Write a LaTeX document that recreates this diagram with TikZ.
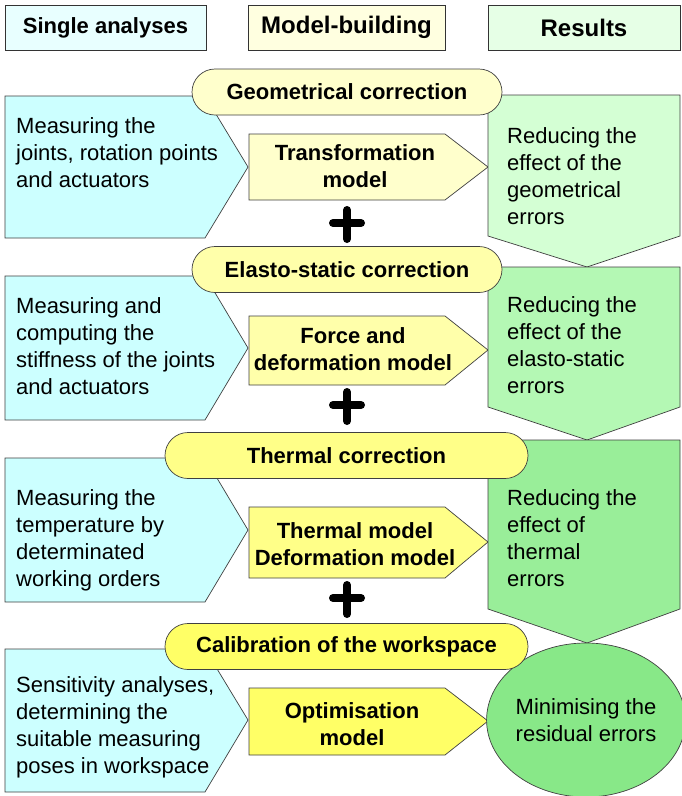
\documentclass[tikz,border=0pt]{standalone}
\usepackage{fontspec}
\setmainfont{Liberation Sans}
\usetikzlibrary{shapes.geometric}
\definecolor{bluefill}{HTML}{CCFFFF}
\definecolor{hdrblue}{HTML}{E8FFFF}
\definecolor{hdryellow}{HTML}{FFFFE0}
\definecolor{hdrgreen}{HTML}{E6FFE6}
\definecolor{yA}{HTML}{FFFFCC}
\definecolor{yB}{HTML}{FFFFAA}
\definecolor{yC}{HTML}{FFFF88}
\definecolor{yD}{HTML}{FFFF66}
\definecolor{gA}{HTML}{D4FFD4}
\definecolor{gB}{HTML}{B4F8B4}
\definecolor{gC}{HTML}{99EE99}
\definecolor{gD}{HTML}{88E888}
\definecolor{edge}{HTML}{404040}
\begin{document}
\begin{tikzpicture}[x=1pt,y=-1pt,
  txt/.style={font=\fontsize{22}{27}\selectfont, inner sep=0pt, align=left, anchor=west},
  btxt/.style={font=\fontsize{22}{27}\selectfont\bfseries, inner sep=0pt, align=center},
  outl/.style={draw=edge, line width=0.7pt},
  hdr/.style={draw=black!80, line width=1pt, minimum height=45pt, inner sep=0pt},
  pill/.style={draw=edge, line width=0.7pt, rounded corners=23pt, minimum height=46pt, minimum width=#1, inner sep=0pt, font=\fontsize{22}{27}\selectfont\bfseries},
  plussign/.style={line width=8pt, line cap=round}]
\useasboundingbox[fill=white] (0,0) rectangle (682,796);

% headers
\node[hdr, fill=hdrblue, minimum width=201pt, font=\fontsize{22}{27}\selectfont\bfseries] (h1) at (105.5,27.5) {Single analyses};
\node[hdr, fill=hdryellow, minimum width=197pt, font=\fontsize{24}{28}\selectfont\bfseries] (h2) at (346.5,27.5) {Model-building};
\node[hdr, fill=hdrgreen, minimum width=192pt, font=\fontsize{24}{28}\selectfont\bfseries] (h3) at (584,27.5) {Results};

% blue pentagons
\draw[outl, fill=bluefill] (5,96) -- (205,96) -- (248,167) -- (205,238) -- (5,238) -- cycle;
\draw[outl, fill=bluefill] (5,276) -- (205,276) -- (248,348) -- (205,420) -- (5,420) -- cycle;
\draw[outl, fill=bluefill] (5,458) -- (205,458) -- (248,530) -- (205,602) -- (5,602) -- cycle;
\draw[outl, fill=bluefill] (5,649) -- (205,649) -- (248,720) -- (205,792) -- (5,792) -- cycle;

% yellow model shapes
\draw[outl, fill=yA] (249,134) -- (445,134) -- (488,167) -- (445,200) -- (249,200) -- cycle;
\draw[outl, fill=yB] (249,316) -- (445,316) -- (488,350) -- (445,385) -- (249,385) -- cycle;
\draw[outl, fill=yC] (249,507) -- (445,507) -- (488,542) -- (445,578) -- (249,578) -- cycle;
\draw[outl, fill=yD] (249,688) -- (445,688) -- (488,721) -- (445,755) -- (249,755) -- cycle;

% green results
\draw[outl, fill=gA] (488,95) -- (680,95) -- (680,236) -- (587,267) -- (488,236) -- cycle;
\draw[outl, fill=gB] (488,267) -- (680,267) -- (680,407) -- (587,440) -- (488,407) -- cycle;
\draw[outl, fill=gC] (488,440) -- (680,440) -- (680,609) -- (587,643) -- (488,609) -- cycle;
\node[ellipse, outl, fill=gD, minimum width=196pt, minimum height=154pt, inner sep=0pt, font=\fontsize{22}{27}\selectfont, align=center] (res4) at (586,720) {Minimising the\\residual errors};

% pills
\node[pill=310pt, fill=yA] (p1) at (347,92) {Geometrical correction};
\node[pill=310pt, fill=yB] (p2) at (347,269.5) {Elasto-static correction};
\node[pill=363pt, fill=yC] (p3) at (346.5,455.5) {Thermal correction};
\node[pill=363pt, fill=yD] (p4) at (346.5,646.5) {Calibration of the workspace};

% blue texts
\node[txt] (b1) at (16,153) {Measuring the\\joints, rotation points\\and actuators};
\node[txt] (b2) at (16,346) {Measuring and\\computing the\\stiffness of the joints\\and actuators};
\node[txt] (b3) at (16,540) {Measuring the\\temperature by\\determinated\\working orders};
\node[txt] (b4) at (16,727) {Sensitivity analyses,\\determining the\\suitable measuring\\poses in workspace};

% model texts
\node[btxt] (m1) at (355,166) {Transformation\\model};
\node[btxt] (m2) at (353,349) {Force and\\deformation model};
\node[btxt] (m3) at (355,544) {Thermal model\\Deformation model};
\node[btxt] (m4) at (352,724) {Optimisation\\model};

% green texts
\node[txt] (r1) at (507,176) {Reducing the\\effect of the\\geometrical\\errors};
\node[txt] (r2) at (507,345) {Reducing the\\effect of the\\elasto-static\\errors};
\node[txt] (r3) at (507,538) {Reducing the\\effect of\\thermal\\errors};

% plus signs
\draw[plussign] (333,223) -- (361,223);
\draw[plussign] (347,210) -- (347,239);
\draw[plussign] (333,405) -- (361,405);
\draw[plussign] (347,392) -- (347,421);
\draw[plussign] (333,598) -- (361,598);
\draw[plussign] (347,585) -- (347,614);
\end{tikzpicture}
\end{document}
